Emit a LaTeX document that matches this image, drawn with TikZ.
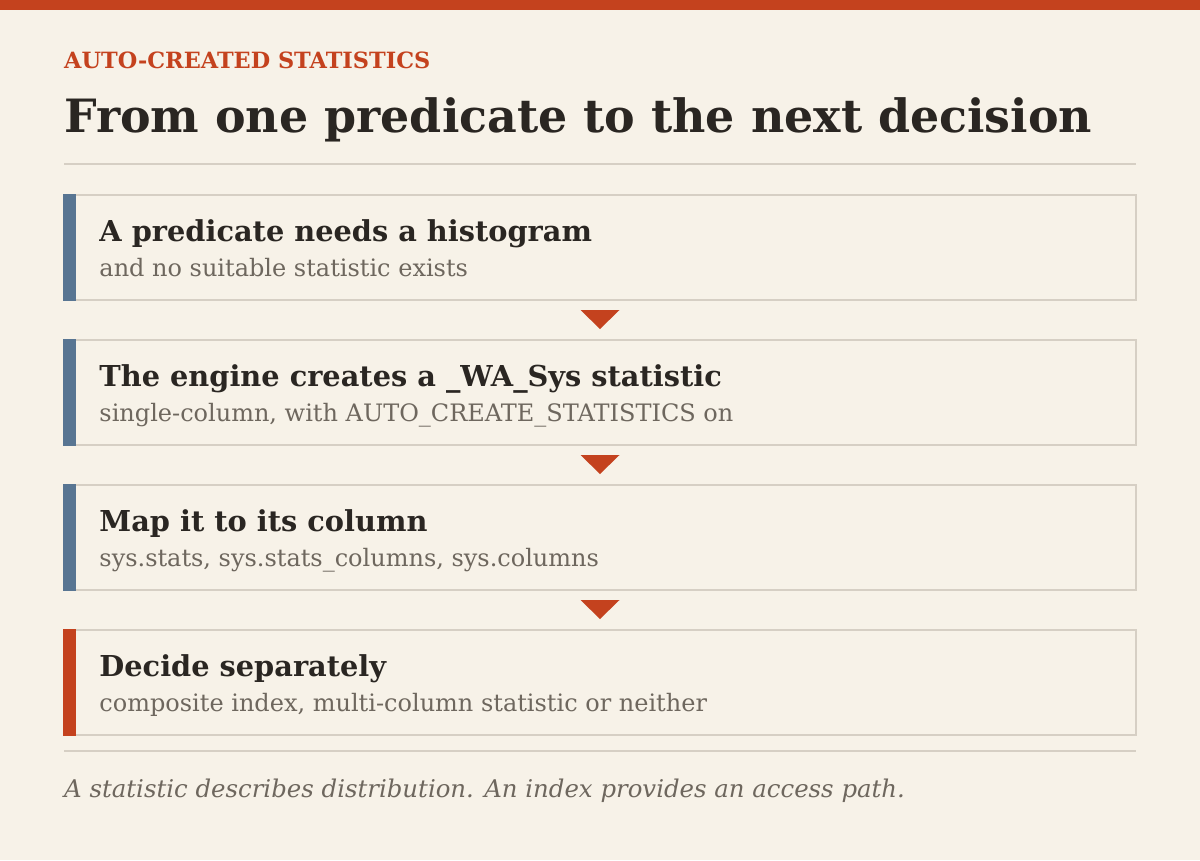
\documentclass[tikz,border=0pt]{standalone}
\usepackage{fontspec}
\setmainfont{DejaVu Serif}
\usetikzlibrary{calc}
\definecolor{paper}{HTML}{F7F2E8}
\definecolor{rust}{HTML}{C4421E}
\definecolor{slate}{HTML}{587592}
\definecolor{rulegray}{HTML}{D6CFC4}
\definecolor{ink}{HTML}{2A2622}
\definecolor{muted}{HTML}{6E675E}

\begin{document}
\begin{tikzpicture}[x=1pt,y=-1pt,
		card/.style={draw=rulegray,line width=1.5pt,minimum width=1072pt,minimum height=105pt,inner sep=0pt},
		head/.style={anchor=base west,inner sep=0pt,text=ink,font=\fontsize{28.8}{32}\selectfont\bfseries},
		sub/.style={anchor=base west,inner sep=0pt,text=muted,font=\fontsize{24}{28}\selectfont}]
		\useasboundingbox (0,0) rectangle (1200,860);
		\fill[paper] (0,0) rectangle (1200,860);
		\fill[rust] (0,0) rectangle (1200,10);
		\node[anchor=base west,inner sep=0pt,text=rust,font=\fontsize{22.4}{26}\selectfont\bfseries] (kicker) at (64,68) {AUTO-CREATED STATISTICS};
		\node[anchor=base west,inner sep=0pt,text=ink,font=\fontsize{45.9}{52}\selectfont\bfseries] (title) at (64,132) {From one predicate to the next decision};
		\draw[rulegray,line width=2pt] (64,164) -- (1136,164);
		\node[card] (s1) at (600,247.5) {};
		\node[card] (s2) at (600,392.5) {};
		\node[card] (s3) at (600,537.5) {};
		\node[card] (s4) at (600,682.5) {};
		\fill[slate] (s1.north west) rectangle ($(s1.south west)+(13,0)$);
		\fill[slate] (s2.north west) rectangle ($(s2.south west)+(13,0)$);
		\fill[slate] (s3.north west) rectangle ($(s3.south west)+(13,0)$);
		\fill[rust] (s4.north west) rectangle ($(s4.south west)+(13,0)$);
		\node[head] (h1) at ($(s1.north west)+(36,47)$) {A predicate needs a histogram};
		\node[sub] (d1) at ($(s1.north west)+(36,82)$) {and no suitable statistic exists};
		\node[head] (h2) at ($(s2.north west)+(36,47)$) {The engine creates a \_WA\_Sys statistic};
		\node[sub] (d2) at ($(s2.north west)+(36,82)$) {single-column, with AUTO\_CREATE\_STATISTICS on};
		\node[head] (h3) at ($(s3.north west)+(36,47)$) {Map it to its column};
		\node[sub] (d3) at ($(s3.north west)+(36,82)$) {sys.stats, sys.stats\_columns, sys.columns};
		\node[head] (h4) at ($(s4.north west)+(36,47)$) {Decide separately};
		\node[sub] (d4) at ($(s4.north west)+(36,82)$) {composite index, multi-column statistic or neither};
		\path (s1.south) -- coordinate[midway] (t1) (s2.north);
		\path (s2.south) -- coordinate[midway] (t2) (s3.north);
		\path (s3.south) -- coordinate[midway] (t3) (s4.north);
		\fill[rust] ($(t1)+(-19.5,-10)$) -- ($(t1)+(19.5,-10)$) -- ($(t1)+(0,9)$) -- cycle;
		\fill[rust] ($(t2)+(-19.5,-10)$) -- ($(t2)+(19.5,-10)$) -- ($(t2)+(0,9)$) -- cycle;
		\fill[rust] ($(t3)+(-19.5,-10)$) -- ($(t3)+(19.5,-10)$) -- ($(t3)+(0,9)$) -- cycle;
		\draw[rulegray,line width=2pt] (64,751) -- (1136,751);
		\node[anchor=base west,inner sep=0pt,text=muted,font=\fontsize{24.4}{28}\selectfont\itshape] (note) at (64,797) {A statistic describes distribution. An index provides an access path.};
	\end{tikzpicture}
\end{document}
